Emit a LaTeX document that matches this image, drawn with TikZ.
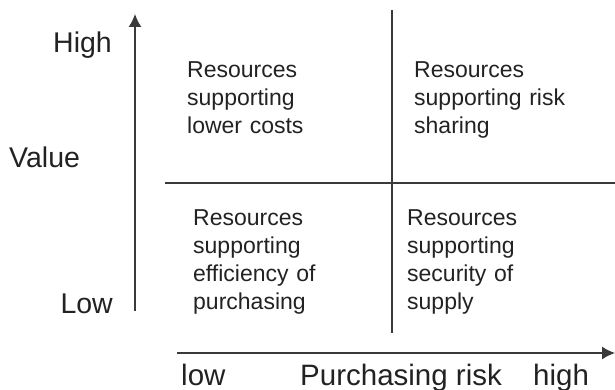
\documentclass[tikz,border=0pt]{standalone}
\usepackage{fontspec}
\setmainfont{Liberation Sans}
\usetikzlibrary{arrows.meta}
\definecolor{ink}{HTML}{222222}
\definecolor{rule}{HTML}{3A3A3A}
\begin{document}
\begin{tikzpicture}[x=1pt,y=1pt,
  axis/.style={draw=rule,line width=1.4pt,-{Latex[length=13pt,width=13pt]}},
  divider/.style={draw=rule,line width=1.4pt},
  axislabel/.style={inner sep=0pt,text=ink,font=\fontsize{28.5}{32}\selectfont},
  xlabel/.style={axislabel,anchor=base west,font=\fontsize{29.5}{32}\selectfont},
  quadtext/.style={inner sep=0pt,anchor=base west,text=ink,text width=220pt,align=left,
    font=\fontsize{23}{28}\selectfont}]
\useasboundingbox (0,0) rectangle (615,389);

% axes
\coordinate (vbot) at (135,78);
\coordinate (vtop) at (135,375);
\coordinate (hleft) at (177,36);
\coordinate (hright) at (615,36);
\draw[axis] (vbot) -- (vtop);
\draw[axis] (hleft) -- (hright);

% quadrant dividers
\coordinate (dtop) at (392,379);
\coordinate (dbot) at (392,56);
\coordinate (dleft) at (165,206);
\coordinate (dright) at (615,206);
\draw[divider] (dtop) -- (dbot);
\draw[divider] (dleft) -- (dright);

% value axis labels
\node[axislabel,anchor=base east] (high) at (112,336) {High};
\node[axislabel,anchor=base west] (value) at (9,222) {Value};
\node[axislabel,anchor=base east] (low) at (113,76) {Low};

% risk axis labels
\node[xlabel] (xlow) at (181,4) {low};
\node[xlabel] (xrisk) at (300,4) {Purchasing risk};
\node[xlabel] (xhigh) at (533,4) {high};

% quadrant contents
\node[quadtext] (q1) at (187,311) {Resources\\supporting\\lower costs};
\node[quadtext] (q2) at (414,311) {Resources\\supporting risk\\sharing};
\node[quadtext] (q3) at (193,164) {Resources\\supporting\\efficiency of\\purchasing};
\node[quadtext] (q4) at (407,164) {Resources\\supporting\\security of\\supply};
\end{tikzpicture}
\end{document}
